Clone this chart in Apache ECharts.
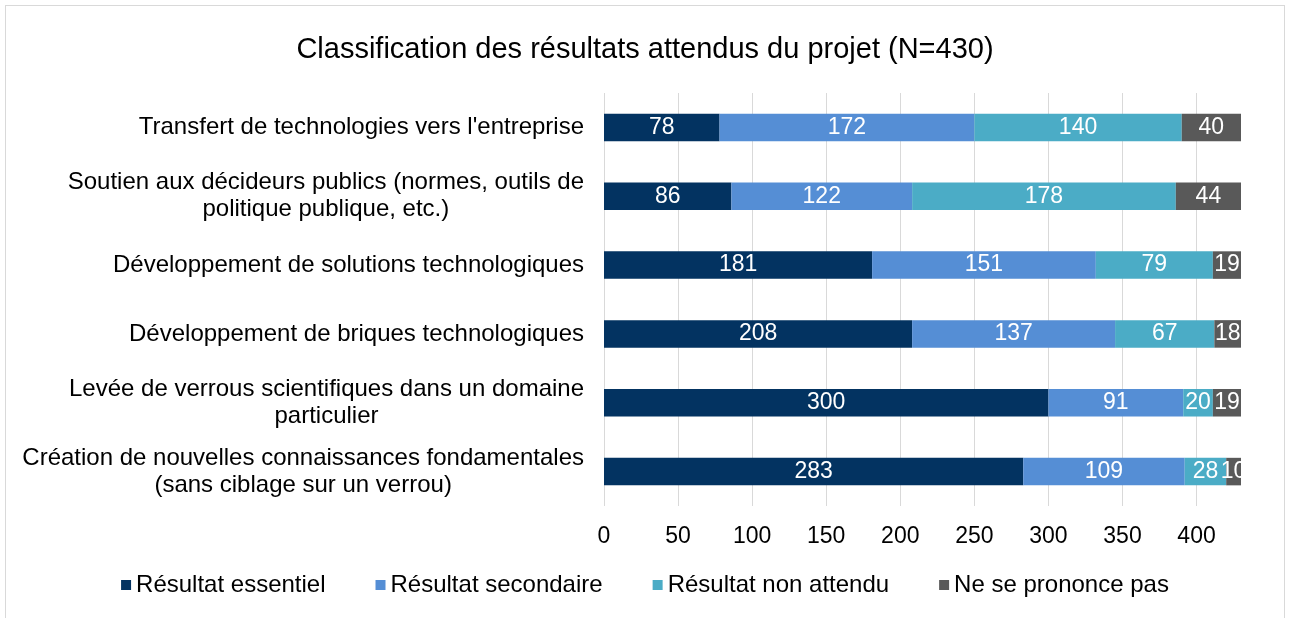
<!DOCTYPE html>
<html>
<head>
<meta charset="utf-8">
<script src="https://cdn.jsdelivr.net/npm/echarts@6/dist/echarts.min.js"></script>
<style>
  html, body { margin: 0; padding: 0; background: #fff; }
  #chart { position: absolute; left: 5px; top: 5px; width: 1280px; height: 620px; border: 1px solid #d9d9d9; box-sizing: border-box; }
</style>
</head>
<body>
<div id="chart"></div>
<script>
// catégories (de bas en haut)
const categories = [
  "Création de nouvelles connaissances fondamentales\n(sans ciblage sur un verrou)",
  "Levée de verrous scientifiques dans un domaine\nparticulier",
  "Développement de briques technologiques",
  "Développement de solutions technologiques",
  "Soutien aux décideurs publics (normes, outils de\npolitique publique, etc.)",
  "Transfert de technologies vers l'entreprise"
];
const essentiel = [283, 300, 208, 181, 86, 78];
const secondaire = [109, 91, 137, 151, 122, 172];
const nonAttendu = [28, 20, 67, 79, 178, 140];
const sansAvis = [10, 19, 18, 19, 44, 40];
const seriesNames = ["Résultat essentiel", "Résultat secondaire", "Résultat non attendu", "Ne se prononce pas"];
const colors = ["#033361", "#558ed5", "#4bacc6", "#595959"];

const chart = echarts.init(document.getElementById("chart"));

function makeSeries(name, data, color) {
  return {
    name: name,
    type: "bar",
    stack: "total",
    barWidth: "40%",
    itemStyle: { color: color },
    label: {
      show: true,
      position: "inside",
      color: "#fff",
      fontSize: 23,
      fontFamily: "Liberation Sans"
    },
    data: data
  };
}

chart.setOption({
  textStyle: { fontFamily: "Liberation Sans" },
  title: {
    text: "Classification des résultats attendus du projet (N=430)",
    left: "center",
    top: 24,
    textStyle: { fontSize: 29, fontWeight: "normal", color: "#000", fontFamily: "Liberation Sans" }
  },
  legend: {
    bottom: 22,
    left: "center",
    itemWidth: 10,
    itemHeight: 10,
    itemGap: 50,
    icon: "rect",
    textStyle: { fontSize: 24, color: "#000" },
    data: seriesNames
  },
  grid: { left: 598, right: 43, top: 87, bottom: 118 },
  xAxis: {
    type: "value",
    min: 0,
    max: 430,
    interval: 50,
    axisLine: { show: false },
    axisTick: { show: false },
    axisLabel: {
      fontSize: 23,
      color: "#000",
      margin: 19,
      showMaxLabel: false
    },
    splitLine: { lineStyle: { color: "#d9d9d9" }, showMaxLine: false }
  },
  yAxis: {
    type: "category",
    data: categories,
    axisLine: { show: false },
    axisTick: { show: false },
    axisLabel: {
      margin: 20,
      color: "#000",
      fontSize: 24,
      lineHeight: 27,
      formatter: function (v) {
        return v.split("\n").map(function (l) { return "{c|" + l + "}"; }).join("\n");
      },
      rich: { c: { align: "center", fontSize: 24, lineHeight: 27, color: "#000" } }
    }
  },
  series: [
    makeSeries(seriesNames[0], essentiel, colors[0]),
    makeSeries(seriesNames[1], secondaire, colors[1]),
    makeSeries(seriesNames[2], nonAttendu, colors[2]),
    makeSeries(seriesNames[3], sansAvis, colors[3])
  ]
});
</script>
</body>
</html>
